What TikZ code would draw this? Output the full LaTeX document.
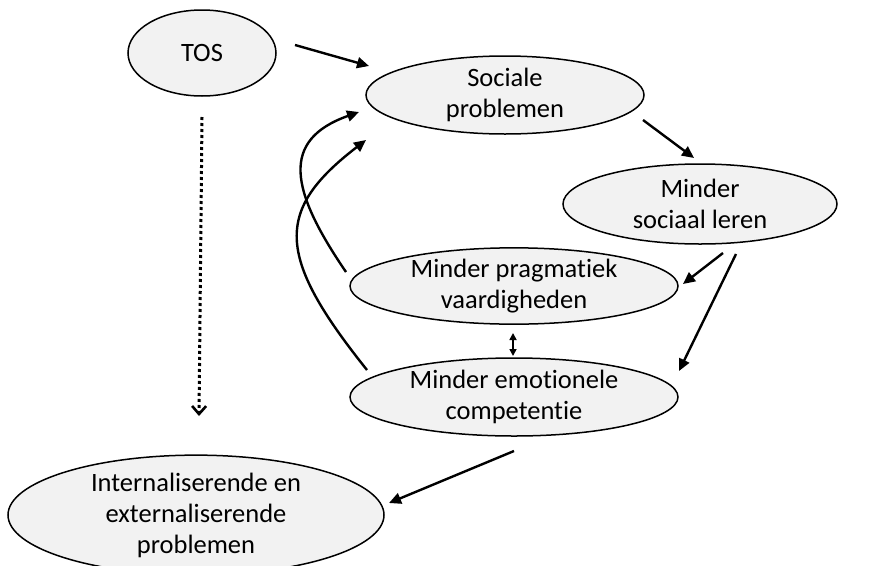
\documentclass[tikz,border=0pt]{standalone}
\usepackage{fontspec}
\setmainfont[Ligatures={NoCommon}]{Carlito}
\usetikzlibrary{shapes.geometric,arrows.meta}
\definecolor{bubble}{HTML}{F2F2F2}
\begin{document}
\begin{tikzpicture}[x=1pt,y=-1pt,
  bub/.style={ellipse,draw=black,line width=1.5pt,fill=bubble,inner sep=0pt,
    align=center,font=\fontsize{26.5}{31}\selectfont},
  conn/.style={line width=2.4pt,-{Triangle[length=12pt,width=11pt]}},
  dotarrow/.style={line width=3pt,dash pattern=on 3pt off 3pt,-{Straight Barb[length=8pt,width=14pt,line width=2.6pt]}},
  dbl/.style={line width=1.6pt,{Triangle[length=7pt,width=7pt]}-{Triangle[length=7pt,width=7pt]}}]
\useasboundingbox (0,0) rectangle (874,565);
\node[bub,minimum width=148pt,minimum height=86pt] (tos) at (202,53) {TOS};
\node[bub,minimum width=278pt,minimum height=78pt] (soc) at (505,95) {Sociale\\problemen};
\node[bub,minimum width=274pt,minimum height=80pt] (ler) at (700,204) {Minder\\sociaal leren};
\node[bub,minimum width=328pt,minimum height=74pt] (prag) at (514,286) {Minder pragmatiek\\vaardigheden};
\node[bub,minimum width=328pt,minimum height=78pt] (emo) at (514,397) {Minder emotionele\\competentie};
\node[bub,minimum width=376pt,minimum height=98pt] (int) at (196,515) {Internaliserende en\\externaliserende\\problemen};
\coordinate (a1) at (295,45); \coordinate (a2) at (369,66);
\coordinate (b1) at (643,120); \coordinate (b2) at (694,158);
\coordinate (c1) at (723,253); \coordinate (c2) at (683,284);
\coordinate (d1) at (736,254); \coordinate (d2) at (679,371);
\coordinate (e1) at (513,333); \coordinate (e2) at (513,356);
\coordinate (f1) at (514,451); \coordinate (f2) at (389,503);
\coordinate (g1) at (202,117); \coordinate (g2) at (199,416);
\coordinate (h1) at (346,272); \coordinate (h2) at (359,112);
\coordinate (k1) at (367,370); \coordinate (k2) at (366,140);
\draw[conn] (a1) -- (a2);
\draw[conn] (b1) -- (b2);
\draw[conn] (c1) -- (c2);
\draw[conn] (d1) -- (d2);
\draw[dbl] (e1) -- (e2);
\draw[conn] (f1) -- (f2);
\draw[dotarrow] (g1) -- (g2);
\draw[conn] (h1) .. controls (290,190) and (280,140) .. (h2);
\draw[conn] (k1) .. controls (275,255) and (275,210) .. (k2);
\end{tikzpicture}
\end{document}
